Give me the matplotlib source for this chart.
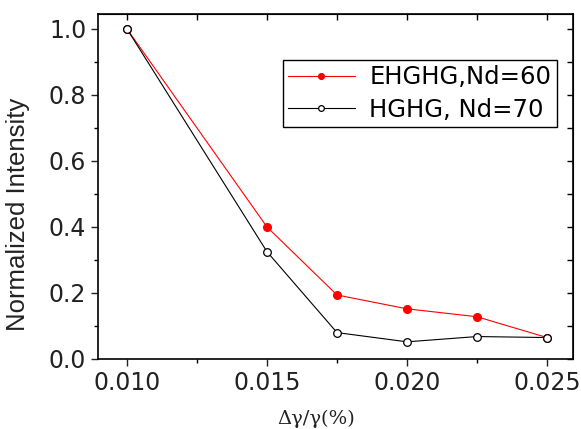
import numpy as np
import matplotlib
matplotlib.use('Agg')
import matplotlib.pyplot as plt

plt.rcParams['font.family'] = ['DejaVu Sans']

# data
x = [0.010, 0.015, 0.0175, 0.020, 0.0225, 0.025]
ehghg = [1.0, 0.40, 0.194, 0.152, 0.128, 0.065]
hghg = [1.0, 0.325, 0.080, 0.052, 0.068, 0.065]
xticks = [0.010, 0.015, 0.020, 0.025]
xticklabels = ['0.010', '0.015', '0.020', '0.025']
yticks = [0.0, 0.2, 0.4, 0.6, 0.8, 1.0]
yticklabels = ['0.0', '0.2', '0.4', '0.6', '0.8', '1.0']

fig = plt.figure(figsize=(5.81, 4.29), dpi=100)
ax = fig.add_axes([0.1687, 0.1632, 0.8175, 0.8042])

ax.plot(x, ehghg, '-', color='red', lw=0.8, marker='o', ms=5.5,
        mfc='red', mec='red', label='EHGHG,Nd=60', zorder=3)
ax.plot(x, hghg, '-', color='black', lw=0.8, marker='o', ms=5.5,
        mfc='white', mec='black', mew=0.9, label='HGHG, Nd=70', zorder=4)

ax.set_xlim(0.008964, 0.025929)
ax.set_ylim(0, 1.0455)
ax.set_xticks(xticks)
ax.set_xticklabels(xticklabels)
ax.set_yticks(yticks)
ax.set_yticklabels(yticklabels)
ax.set_xticks([0.0125, 0.0175, 0.0225], minor=True)
ax.set_yticks([0.1, 0.3, 0.5, 0.7, 0.9], minor=True)
ax.tick_params(which='major', direction='out', length=5, width=1, labelsize=17, colors='#222222')
ax.tick_params(which='minor', direction='out', length=3, width=1)

for s in ax.spines.values():
    s.set_linewidth(1.2)

# inward ticks on top and right
top = ax.secondary_xaxis('top')
top.set_xticks([0.010, 0.0125, 0.015, 0.0175, 0.020, 0.0225, 0.025])
top.tick_params(direction='in', length=4, width=1, labeltop=False)
right = ax.secondary_yaxis('right')
right.set_yticks([0.0, 0.1, 0.2, 0.3, 0.4, 0.5, 0.6, 0.7, 0.8, 0.9, 1.0])
right.tick_params(direction='in', length=4, width=1, labelright=False)

ax.set_xlabel('Δγ/γ(%)', fontsize=14, color='#222222', family='DejaVu Serif')
ax.xaxis.set_label_coords(0.459, -0.148)
ax.set_ylabel('Normalized Intensity', fontsize=18.5, color='#222222', family='Liberation Sans')
ax.yaxis.set_label_coords(-0.143, 0.42)

leg = ax.legend(loc='upper right', bbox_to_anchor=(0.966, 0.867), fontsize=17.5,
                frameon=True, fancybox=False, edgecolor='black', framealpha=1,
                handlelength=2.75, handletextpad=0.6, labelspacing=0.36,
                borderpad=0.22, markerscale=0.75, borderaxespad=0)
leg.get_frame().set_linewidth(1.0)

fig.savefig('out.png', dpi=100)
